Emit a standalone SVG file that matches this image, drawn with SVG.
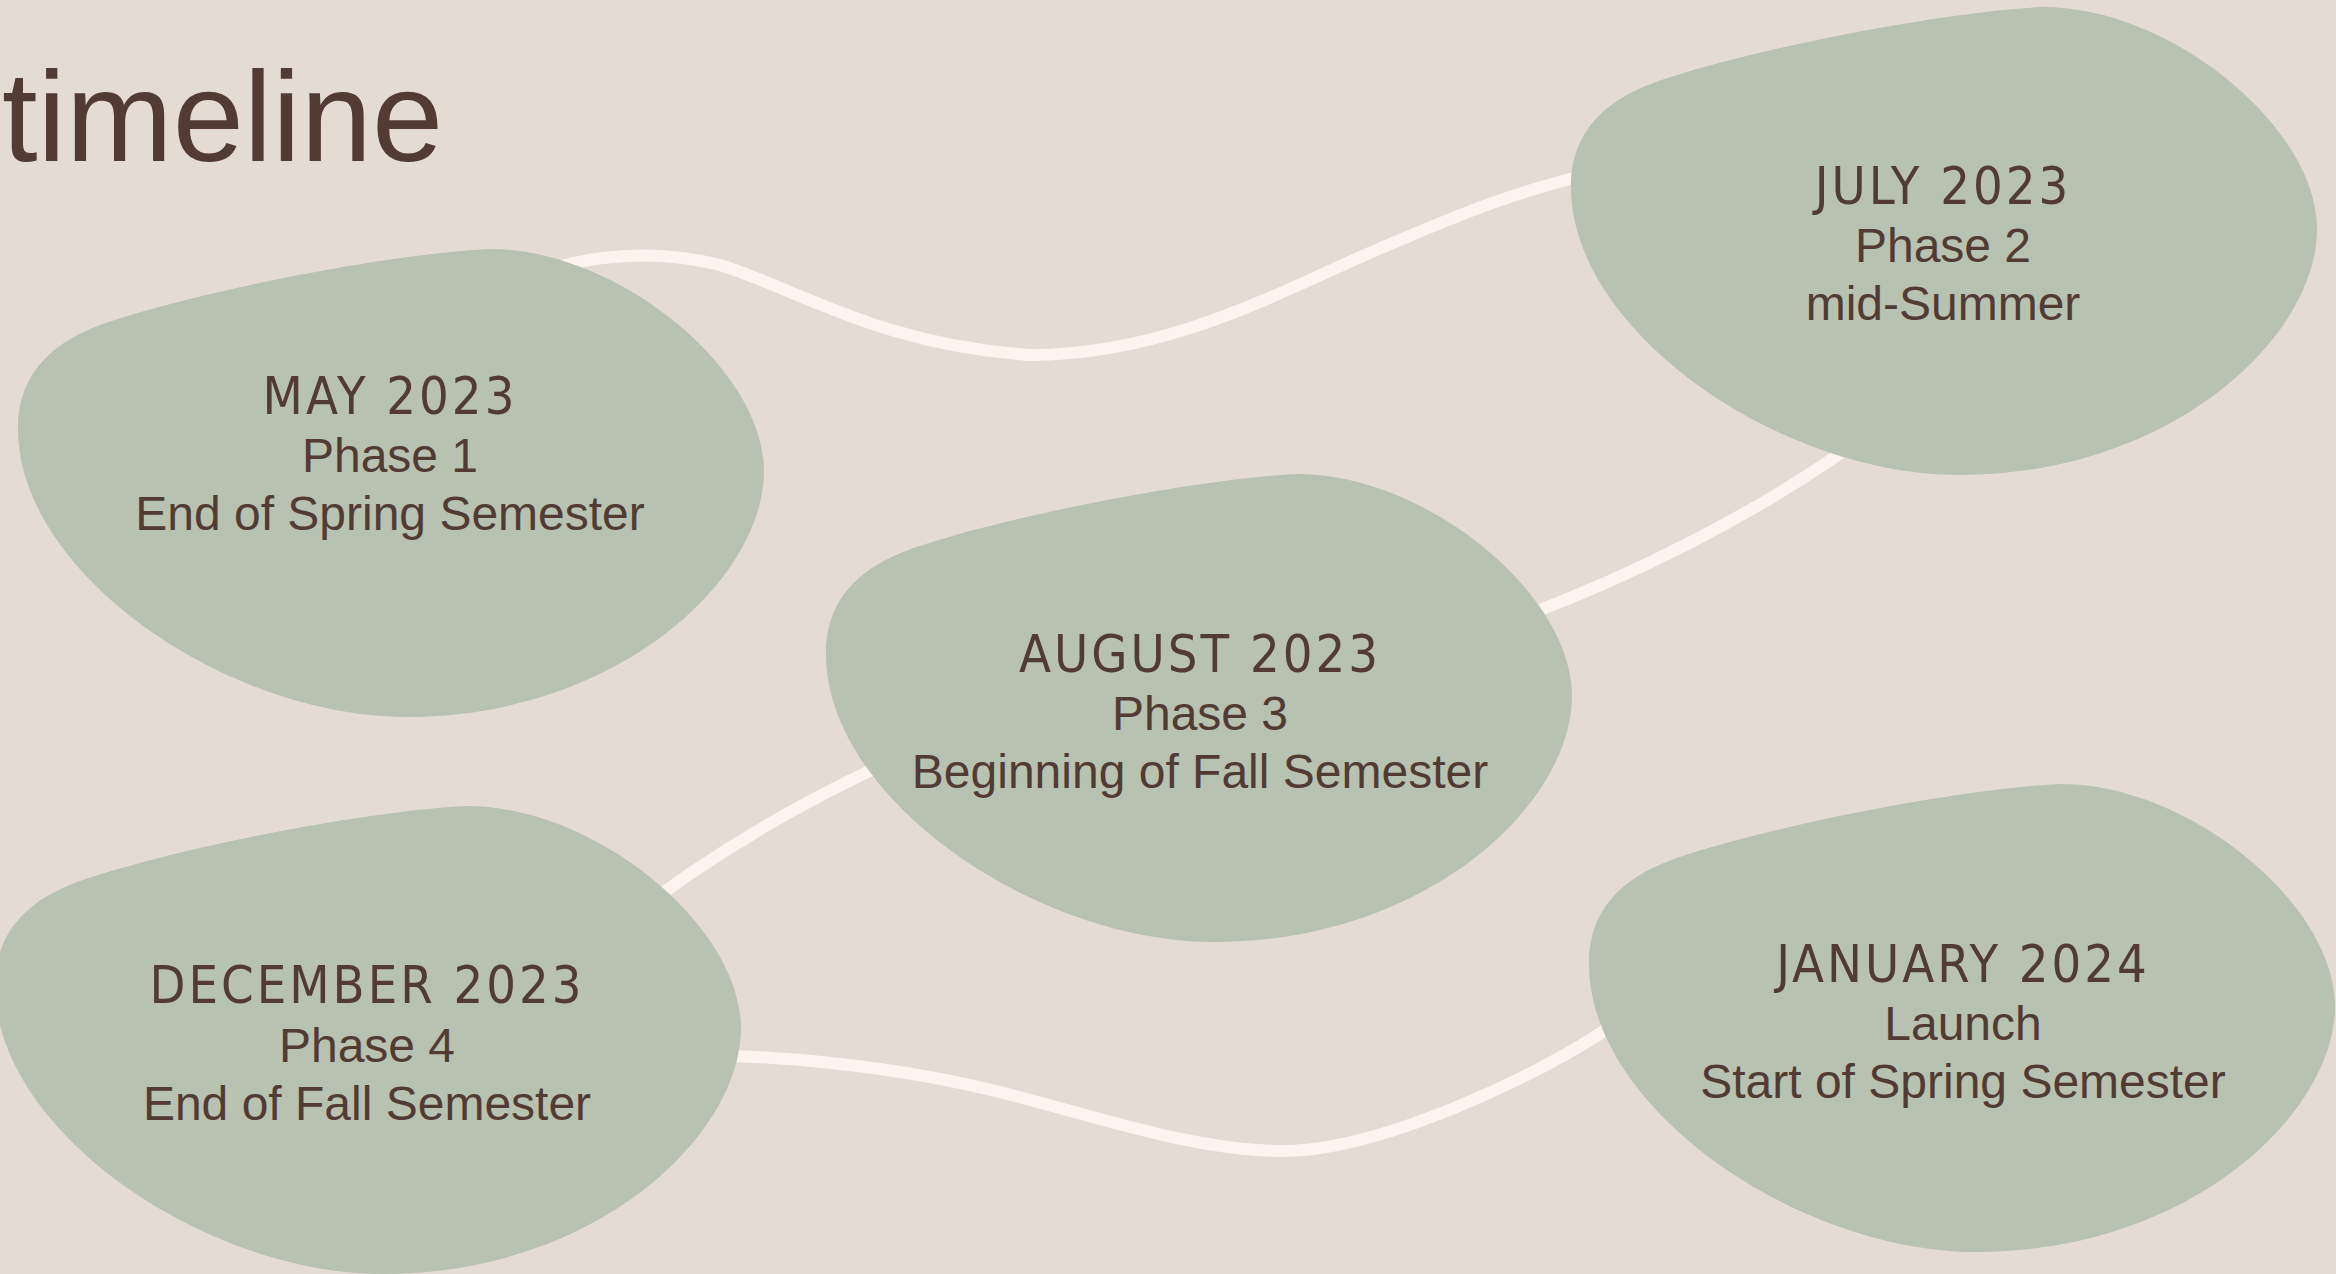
<svg xmlns="http://www.w3.org/2000/svg" xmlns:xlink="http://www.w3.org/1999/xlink" width="2336" height="1274" viewBox="0 0 2336 1274">
<style>
.bg{fill:#e4dcd2}
.blob{fill:#b8c2b0}
.conn{fill:none;stroke:#fdf4ee;stroke-width:12;stroke-linecap:butt}
.title{font-family:"Liberation Sans",Arial,sans-serif;font-size:128px;fill:#523b32}
.hd{font-family:"DejaVu Sans Condensed","DejaVu Sans",sans-serif;font-size:52px;letter-spacing:3px;fill:#523b32;text-anchor:middle}
.tx{font-family:"Liberation Sans",Arial,sans-serif;font-size:48px;fill:#523b32;text-anchor:middle}
</style>
<defs>
<path id="blob" d="M 0 180 C 0 120, 40 88, 100 70 C 200 38, 380 4, 472 0 C 600 0, 746 120, 746 222 C 746 330, 600 468, 388 468 C 210 468, 0 325, 0 180 Z"/>
</defs>
<rect class="bg" x="0" y="0" width="2336" height="1274"/>
<text class="title" x="2" y="161">timeline</text>
<g id="connectors">
<path class="conn" d="M 500 290 C 560 258, 640 245, 720 265 C 800 290, 880 345, 1030 355 C 1180 355, 1300 280, 1400 240 C 1470 210, 1530 185, 1650 160"/>
<path class="conn" d="M 1500 625 C 1620 582, 1760 515, 1880 425"/>
<path class="conn" d="M 620 925 C 700 862, 800 800, 920 748"/>
<path class="conn" d="M 650 1056 C 760 1052, 900 1065, 1019 1097 C 1110 1121, 1200 1151, 1283 1151 C 1380 1151, 1540 1075, 1610 1027 L 1680 975"/>
</g>
<g id="node-may">
<use xlink:href="#blob" class="blob" transform="translate(18,249)"/>
<text class="hd" x="390" y="414">MAY 2023</text>
<text class="tx" x="390" y="472">Phase 1</text>
<text class="tx" x="390" y="530">End of Spring Semester</text>
</g>
<g id="node-july">
<use xlink:href="#blob" class="blob" transform="translate(1571,7)"/>
<text class="hd" x="1943" y="204">JULY 2023</text>
<text class="tx" x="1943" y="262">Phase 2</text>
<text class="tx" x="1943" y="320">mid-Summer</text>
</g>
<g id="node-august">
<use xlink:href="#blob" class="blob" transform="translate(826,474)"/>
<text class="hd" x="1200" y="672">AUGUST 2023</text>
<text class="tx" x="1200" y="730">Phase 3</text>
<text class="tx" x="1200" y="788">Beginning of Fall Semester</text>
</g>
<g id="node-december">
<use xlink:href="#blob" class="blob" transform="translate(-5,806)"/>
<text class="hd" x="367" y="1003">DECEMBER 2023</text>
<text class="tx" x="367" y="1062">Phase 4</text>
<text class="tx" x="367" y="1120">End of Fall Semester</text>
</g>
<g id="node-january">
<use xlink:href="#blob" class="blob" transform="translate(1589,784)"/>
<text class="hd" x="1963" y="982">JANUARY 2024</text>
<text class="tx" x="1963" y="1040">Launch</text>
<text class="tx" x="1963" y="1098">Start of Spring Semester</text>
</g>
</svg>
